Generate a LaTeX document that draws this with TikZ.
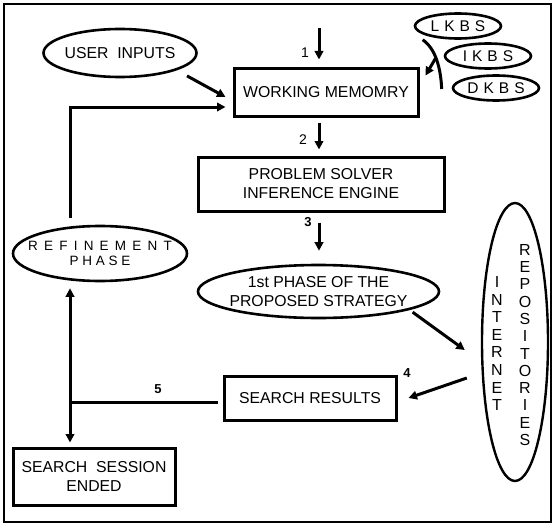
\documentclass[tikz,border=0pt]{standalone}
\usepackage{fontspec}
\setmainfont{Liberation Sans}
\usetikzlibrary{positioning,arrows.meta,shapes.geometric}

\newcommand\widesp[1]{\spaceskip=#1\relax}

\begin{document}
\begin{tikzpicture}[
		x=1pt, y=-1pt,
		font=\fontsize{15.8}{19}\selectfont,
		box/.style={
			draw,
			line width=3pt,
			align=center,
			inner sep=0pt
		},
		oval/.style={
			draw,
			ellipse,
			line width=2.6pt,
			align=center,
			inner xsep=-12pt,
			inner ysep=0pt
		},
		kbs/.style={oval, minimum width=86pt, minimum height=25pt,
			font=\fontsize{15.5}{15.5}\selectfont},
		arrow/.style={-{Triangle[length=8.5pt,width=8.5pt]},line width=3pt},
		num/.style={font=\fontsize{14}{14}\selectfont},
		numb/.style={font=\fontsize{13}{13}\selectfont\bfseries}
		]
		
		\useasboundingbox (0,0) rectangle (559,527);
		\draw[line width=2.8pt] (4,4) rectangle (551,522);
		
		\node[oval,minimum width=153pt,minimum height=48pt] (usr) at (120,53)
		{USER~~INPUTS};
		
		\node[box,minimum width=184pt,minimum height=48pt] (wm) at (326,92)
		{WORKING MEMOMRY};
		
		\node[box,minimum width=246pt,minimum height=54pt] (ps) at (321,184)
		{PROBLEM SOLVER\\ INFERENCE ENGINE};
		
		\node[oval,minimum width=241pt,minimum height=53pt] (ph1) at (318.5,291.5)
		{1st PHASE OF THE\\ PROPOSED STRATEGY};
		
		\node[oval,minimum width=174pt,minimum height=55pt,
		font=\fontsize{13.5}{14.5}\selectfont] (ref) at (100,253.5)
		{\widesp{6.2pt}R E F I N E M E N T\\ P H A S E};
		
		\node[box,minimum width=172pt,minimum height=44pt] (sr) at (310,398)
		{SEARCH RESULTS};
		
		\node[box,minimum width=162pt,minimum height=57pt] (sse) at (94,476.5)
		{SEARCH~~SESSION\\ ENDED};
		
		% knowledge bases
		\node[kbs] (lkbs) at (458,26) {\widesp{5pt}L K B S};
		\node[kbs] (ikbs) at (488,56) {\widesp{5pt}I K B S};
		\node[kbs] (dkbs) at (496,88) {\widesp{5pt}D K B S};
		
		% internet repositories
		\node[oval,line width=2.4pt,minimum width=66pt,minimum height=278pt] (inet) at (515,342) {};
		\node[align=center,font=\fontsize{16}{17.6}\selectfont] (inetl) at (497,343.5)
		{I\\N\\T\\E\\R\\N\\E\\T};
		\node[align=center,font=\fontsize{16}{17.3}\selectfont] (inetr) at (525,345)
		{R\\E\\P\\O\\S\\I\\T\\O\\R\\I\\E\\S};
		
		\coordinate (start) at (319,28);
		\coordinate (jn) at (70,402);
		
		\draw[arrow,shorten >=7pt] (start) -- (start |- wm.north);
		\draw[arrow,shorten <=5pt,shorten >=6pt] ([xshift=-7pt]wm.south) -- ([xshift=-2pt]ps.north);
		\draw[arrow,shorten <=10pt,shorten >=13pt] ([xshift=-2pt]ps.south) -- ([xshift=-2pt]ps.south |- ph1.north);
		\draw[arrow] ([shift={(12,5)}]usr.south east) -- ([shift={(-7,5)}]wm.west);
		\draw[arrow] ([shift={(-30,-7)}]ref.north) |- ([shift={(-7,15)}]wm.west);
		\draw[arrow] ([shift={(-8,2)}]ikbs.west) -- ([shift={(6,9)}]wm.north east);
		\draw[line width=3pt] ([shift={(-4,4)}]lkbs.south west)
		.. controls +(13,9) and +(-1,-21) .. ([shift={(-10,1)}]dkbs.west);
		\draw[arrow] ([shift={(8,1)}]ph1.south east) -- ([shift={(-16,8)}]inet.west);
		\draw[arrow] ([shift={(-14,36)}]inet.west) -- ([shift={(11,0)}]sr.east);
		\draw[line width=3pt] ([shift={(-5,4)}]sr.west) -- (jn);
		\draw[arrow] (jn) -- ([shift={(-30,6)}]ref.south);
		\draw[arrow] (jn) -- ([shift={(-24,-4)}]sse.north);
		
		\node[num] (n1) at (305,53) {1};
		\node[num] (n2) at (303,140) {2};
		\node[numb] (n3) at (308,222) {3};
		\node[numb] (n4) at (407,373) {4};
		\node[numb] (n5) at (158,389) {5};
		
	\end{tikzpicture}
\end{document}
